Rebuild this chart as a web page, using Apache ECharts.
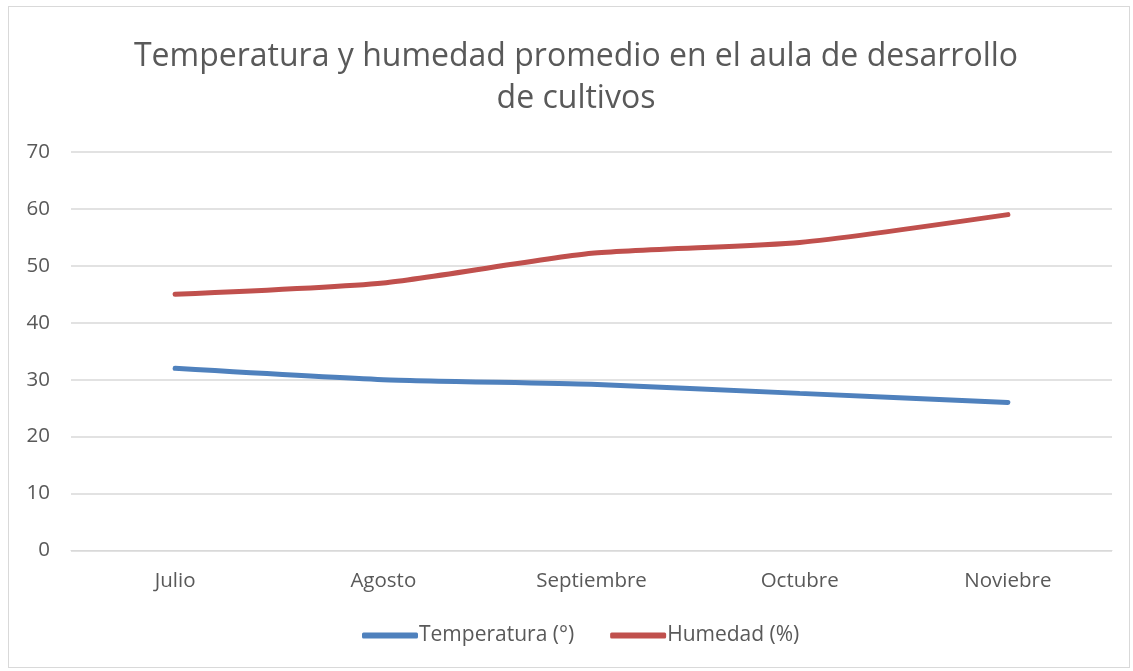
<!DOCTYPE html>
<html>
<head>
<meta charset="utf-8">
<script src="https://cdn.jsdelivr.net/npm/echarts@6/dist/echarts.min.js"></script>
<style>
  html, body { margin: 0; padding: 0; background: #fff; }
  #frame { position: absolute; left: 8px; top: 6px; width: 1122px; height: 662px; border: 1px solid #d9d9d9; box-sizing: border-box; }
  #chart { position: absolute; left: 0; top: 0; width: 1133px; height: 671px; }
</style>
</head>
<body>
<div id="frame"></div>
<div id="chart"></div>
<script>
var meses = ['Julio', 'Agosto', 'Septiembre', 'Octubre', 'Noviebre'];
var temperatura = [32, 30, 29.2, 27.6, 26];
var humedad = [45, 47, 52.2, 54.1, 59];
var yTicks = [0, 10, 20, 30, 40, 50, 60, 70];

var textColor = '#595959';
var chart = echarts.init(document.getElementById('chart'));
chart.setOption({
    title: {
        text: 'Temperatura y humedad promedio en el aula de desarrollo\nde cultivos',
        left: 571,
        top: 31,
        textAlign: 'center',
        textStyle: {
            fontFamily: 'Open Sans',
            fontSize: 32,
            fontWeight: 'normal',
            color: textColor,
            lineHeight: 42
        }
    },
    legend: {
        top: 620,
        left: 357,
        itemWidth: 56,
        itemHeight: 6,
        itemGap: 36,
        icon: 'roundRect',
        textStyle: { fontFamily: 'Open Sans', fontSize: 21, color: textColor, padding: [0, 0, 0, -4] },
        data: ['Temperatura (°)', 'Humedad (%)']
    },
    grid: { left: 71, right: 21, top: 152, bottom: 120.5 },
    xAxis: {
        type: 'category',
        data: meses,
        axisLine: { lineStyle: { color: '#d9d9d9', width: 1 } },
        axisTick: { show: false },
        axisLabel: { fontFamily: 'Open Sans', fontSize: 20.5, color: textColor, margin: 20 }
    },
    yAxis: {
        type: 'value',
        min: yTicks[0],
        max: yTicks[yTicks.length - 1],
        interval: 10,
        axisLine: { show: false },
        axisTick: { show: false },
        axisLabel: { fontFamily: 'Open Sans', fontSize: 20.5, color: textColor, margin: 21 },
        splitLine: { lineStyle: { color: '#d9d9d9', width: 1.5 } }
    },
    series: [
        {
            name: 'Temperatura (°)',
            type: 'line',
            data: temperatura,
            smooth: 0.2,
            symbol: 'none',
            color: '#4F81BD',
            lineStyle: { width: 5, cap: 'round' }
        },
        {
            name: 'Humedad (%)',
            type: 'line',
            data: humedad,
            smooth: 0.2,
            symbol: 'none',
            color: '#C0504D',
            lineStyle: { width: 5, cap: 'round' }
        }
    ]
});
</script>
</body>
</html>
